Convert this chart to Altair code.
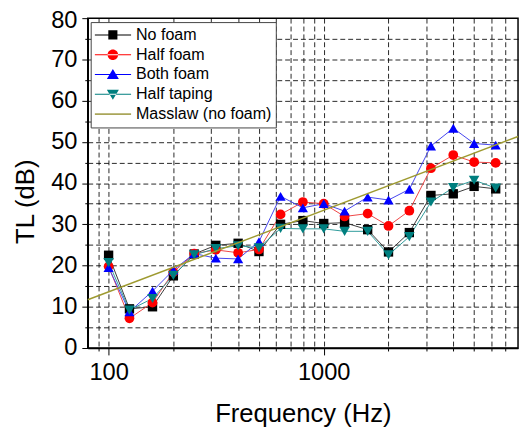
import altair as alt
import pandas as pd

FONT = "Liberation Sans"

freqs = [100, 125, 160, 200, 250, 315, 400, 500, 630, 800, 1000, 1250, 1600, 2000, 2500, 3150, 4000, 5000, 6300]
no_foam = [22.5, 9.5, 10.0, 17.5, 22.8, 24.9, 25.4, 23.4, 30.0, 30.9, 30.2, 30.4, 28.7, 23.3, 28.0, 37.0, 37.4, 39.2, 38.6]
half_foam = [19.8, 7.2, 11.0, 18.4, 22.9, 23.8, 23.1, 23.9, 32.4, 35.4, 35.0, 31.9, 32.6, 29.6, 33.3, 43.6, 46.8, 45.1, 44.9]
both_foam = [19.5, 8.8, 13.8, 18.9, 22.9, 21.8, 21.6, 25.8, 36.8, 34.0, 35.0, 33.2, 36.6, 35.9, 38.5, 49.0, 53.3, 49.6, 49.2]
half_taping = [20.7, 9.2, 12.0, 17.6, 22.6, 24.1, 24.8, 24.3, 29.0, 28.9, 28.9, 28.3, 28.3, 22.6, 27.0, 35.4, 38.9, 40.7, 38.8]

masslaw_freqs = [80, 8000]
masslaw_tl = [11.7, 51.3]

series_names = ["No foam", "Half foam", "Both foam", "Half taping"]
masslaw_name = "Masslaw (no foam)"
marker_colors = ["#000000", "#ff0000", "#0000ff", "#007f7f"]
line_colors = ["#3a3a3a", "#ee4444", "#4444ee", "#2e9a9a"]
marker_shapes = ["square", "circle", "triangle-up", "triangle-down"]
marker_sizes = [90, 115, 140, 140]
masslaw_color = "#9e9a30"

x_grid_vals = [90, 100, 200, 300, 400, 500, 600, 700, 800, 900, 1000,
               2000, 3000, 4000, 5000, 6000, 7000]
y_tick_vals = [0, 5, 10, 15, 20, 25, 30, 35, 40, 45, 50, 55, 60, 65, 70, 75, 80]

rows = []
for name, vals in zip(series_names, [no_foam, half_foam, both_foam, half_taping]):
    for f, v in zip(freqs, vals):
        rows.append({"series": name, "freq": f, "TL": v})
df = pd.DataFrame(rows)
mass_df = pd.DataFrame({"freq": masslaw_freqs, "TL": masslaw_tl})

x_axis = alt.Axis(
    values=x_grid_vals, format="d",
    labelExpr="(datum.value == 100 || datum.value == 1000) ? datum.label : ''",
    labelOverlap=False, labelFont=FONT, labelFontSize=24, labelColor="black",
    labelPadding=6,
    tickSize={"condition": {"test": "datum.value == 100 || datum.value == 1000", "value": 7}, "value": 3},
    tickColor="black", tickWidth=1,
    grid=True, gridColor="black", gridDash=[5, 3], gridWidth=1, gridOpacity=0.85,
    domainColor="black", domainWidth=1.5,
    title="Frequency (Hz)", titleFont=FONT, titleFontSize=26, titleFontWeight="normal",
    titleColor="black", titleX=218.5, titleY=75, titleBaseline="alphabetic",
)
y_axis = alt.Axis(
    values=y_tick_vals,
    labelExpr="(datum.value % 10 == 0) ? datum.label : ''",
    labelOverlap=False, labelFont=FONT, labelFontSize=24, labelColor="black",
    labelPadding=5,
    labelOffset={"condition": {"test": "datum.value == 80", "value": 2}, "value": 0},
    tickSize={"condition": {"test": "datum.value % 10 == 0", "value": 6}, "value": 3},
    tickColor="black", tickWidth=1,
    grid=True, gridColor="black", gridDash=[5, 3], gridWidth=1,
    gridOpacity={"condition": {"test": "datum.value == 0 || datum.value == 80", "value": 0}, "value": 0.85},
    domainColor="black", domainWidth=1.5,
    title="TL (dB)", titleFont=FONT, titleFontSize=26, titleFontWeight="normal",
    titleColor="black", titleX=-63, titleY=186, titleBaseline="middle", titleAngle=-90,
)

x_enc = alt.X("freq:Q", scale=alt.Scale(type="log", domain=[80, 8000], nice=False), axis=x_axis)
y_enc = alt.Y("TL:Q", scale=alt.Scale(domain=[0, 80], nice=False, zero=False), axis=y_axis)

lines = alt.Chart(df).mark_line(strokeWidth=1).encode(
    x=x_enc, y=y_enc,
    color=alt.Color("series:N", scale=alt.Scale(domain=series_names, range=line_colors), legend=None),
    detail="series:N",
)

points = alt.Chart(df).mark_point(filled=True, opacity=1).encode(
    x=x_enc, y=y_enc,
    color=alt.Color("series:N", scale=alt.Scale(domain=series_names, range=marker_colors), legend=None),
    shape=alt.Shape("series:N", scale=alt.Scale(domain=series_names, range=marker_shapes), legend=None),
    size=alt.Size("series:N", scale=alt.Scale(domain=series_names, range=marker_sizes), legend=None),
)

masslaw = alt.Chart(mass_df).mark_line(strokeWidth=1.5, color=masslaw_color).encode(
    x=x_enc, y=y_enc,
)

legend_names = series_names + [masslaw_name]
legend_colors = marker_colors + ["#aaa65a"]
LINE = "M-1,-0.028H1V0.028H-1Z"
legend_shapes = [
    LINE + "M-0.25,-0.25H0.25V0.25H-0.25Z",
    LINE + "M-0.29,0A0.29,0.29 0 1,0 0.29,0A0.29,0.29 0 1,0 -0.29,0Z",
    LINE + "M0,-0.3L0.33,0.25H-0.33Z",
    LINE + "M0,0.3L0.33,-0.25H-0.33Z",
    "M-1,-0.045H1V0.045H-1Z",
]

def make_legend():
    return alt.Legend(
        title=None, orient="none", legendX=3, legendY=4, direction="vertical",
        symbolSize=1369, clipHeight=18, rowPadding=2.1, padding=4, labelOffset=5,
        labelFont=FONT, labelFontSize=16.3, labelColor="black", labelLimit=400,
        strokeColor="#444444", fillColor="white", symbolStrokeWidth=0, symbolOpacity=1,
    )

legend_layer = alt.Chart(pd.DataFrame({"series": legend_names})).transform_filter(
    "false"
).mark_point(filled=True).encode(
    color=alt.Color("series:N", scale=alt.Scale(domain=legend_names, range=legend_colors), legend=make_legend()),
    shape=alt.Shape("series:N", scale=alt.Scale(domain=legend_names, range=legend_shapes), legend=make_legend()),
)

chart = alt.layer(lines, points, masslaw, legend_layer).resolve_scale(
    color="independent", shape="independent", size="independent"
).properties(
    width=437, height=335, autosize="none",
    padding={"left": 81, "top": 7, "right": 2, "bottom": 83},
    background="white",
).configure_view(stroke="black", strokeWidth=1.5)

chart.save("out.html", embed_options={"renderer": "svg", "actions": False})
